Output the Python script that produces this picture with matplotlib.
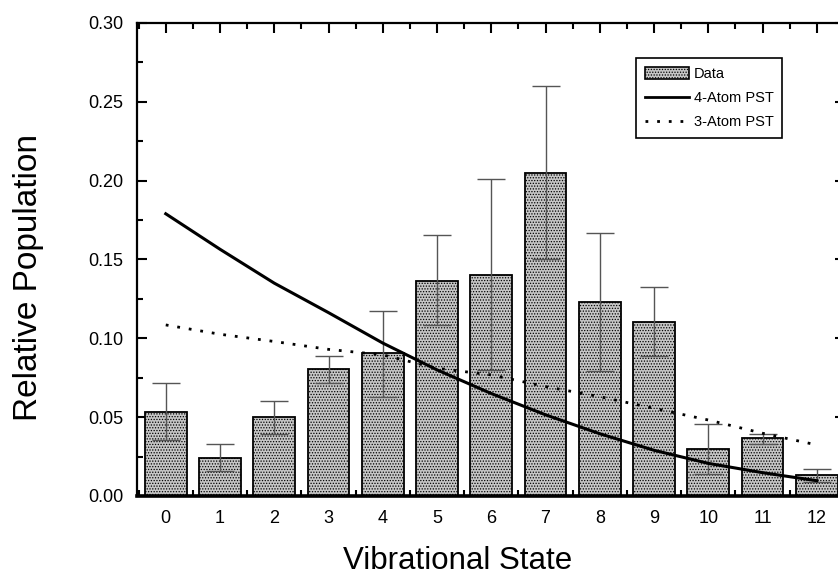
"""
Vibrational state population: data vs PST curves
"""
import matplotlib
matplotlib.use('Agg')
import matplotlib.pyplot as plt
from matplotlib.patches import Patch
from matplotlib.lines import Line2D
from matplotlib.ticker import MultipleLocator

# 데이터
states = [0, 1, 2, 3, 4, 5, 6, 7, 8, 9, 10, 11, 12]
population = [0.0535, 0.0241, 0.0499, 0.0804, 0.0905, 0.1366, 0.1404,
              0.2051, 0.1233, 0.1104, 0.0298, 0.0368, 0.0133]
err_low = [0.0182, 0.0082, 0.0104, 0.0085, 0.0275, 0.0281, 0.0607,
           0.0547, 0.0442, 0.0218, 0.0156, 0.0036, 0.0046]
err_high = [0.0180, 0.0087, 0.0106, 0.0086, 0.0271, 0.0288, 0.0606,
            0.0549, 0.0437, 0.0220, 0.0157, 0.0027, 0.0040]
pst_4atom = [0.179, 0.1565, 0.135, 0.1163, 0.097, 0.080, 0.065,
             0.0515, 0.0395, 0.0290, 0.0207, 0.0148, 0.0097]
pst_3atom = [0.1085, 0.1026, 0.098, 0.093, 0.0895, 0.081, 0.0768,
             0.0694, 0.063, 0.0556, 0.0482, 0.0398, 0.0324]

plt.rcParams['font.family'] = ['Liberation Sans', 'DejaVu Sans']
plt.rcParams['hatch.color'] = '#5e5e5e'
plt.rcParams['hatch.linewidth'] = 0.6

fig = plt.figure(figsize=(8.38, 5.78), dpi=100)
ax = fig.add_axes([137 / 838, 82 / 578, 708 / 838, 473 / 578])

# 막대 + 오차 막대
ax.bar(states, population, width=0.77, color='#c6c6c6', edgecolor='black',
       linewidth=1.3, hatch='......', zorder=2)
ax.errorbar(states, population, yerr=[err_low, err_high], fmt='none',
            ecolor='#555555', elinewidth=1.0, capsize=10, capthick=1.0, zorder=3)

# PST 곡선
ax.plot(states, pst_4atom, '-', color='black', linewidth=2.2, zorder=4)
ax.plot(states, pst_3atom, color='black', linewidth=2.0,
        linestyle=(0, (1, 3.2)), zorder=4)

# 축 설정
ax.set_xlim(-0.53, 12.52)
ax.set_ylim(0, 0.30)
ax.xaxis.set_major_locator(MultipleLocator(1))
ax.xaxis.set_minor_locator(MultipleLocator(0.5))
ax.yaxis.set_major_locator(MultipleLocator(0.05))
ax.yaxis.set_minor_locator(MultipleLocator(0.025))
ax.yaxis.set_major_formatter(plt.FormatStrFormatter('%.2f'))

ax.tick_params(which='both', direction='in', top=True, right=True, width=1.5,
               labelsize=13, pad=10)
ax.tick_params(which='major', length=7.5)
ax.tick_params(which='minor', length=4.5)
for side in ['left', 'top', 'right']:
    ax.spines[side].set_linewidth(1.6)
ax.spines['bottom'].set_linewidth(2.6)
for sp in ax.spines.values():
    sp.set_zorder(5)

ax.set_xlabel('Vibrational State', fontsize=22.5)
ax.set_ylabel('Relative Population', fontsize=24)
ax.xaxis.label.set_va('baseline')
ax.xaxis.set_label_coords(0.453, -0.154)
ax.yaxis.set_label_coords(-0.131, 0.461)

# 범례
handles = [
    Patch(facecolor='#c6c6c6', edgecolor='black', hatch='......', linewidth=1.2),
    Line2D([], [], color='black', linewidth=2.0),
    Line2D([], [], color='black', linewidth=2.0, linestyle=(0, (1, 3.2))),
]
labels = ['Data', '4-Atom PST', '3-Atom PST']
leg = fig.legend(handles, labels, loc='upper left',
                 bbox_to_anchor=(636 / 838, 1 - 58 / 578), fontsize=10.5,
                 fancybox=False, framealpha=1, edgecolor='black',
                 handlelength=3.0, handleheight=0.9, handletextpad=0.35,
                 borderpad=0.6, labelspacing=0.7, borderaxespad=0)
leg.get_frame().set_linewidth(1.2)

plt.savefig('out.png', dpi=100, facecolor='white')
plt.close()
